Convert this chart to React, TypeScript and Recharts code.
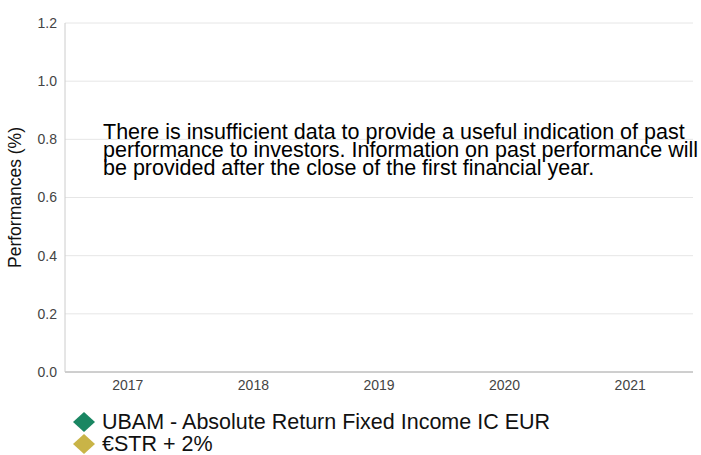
import React from "react";
import {
  Bar,
  BarChart,
  CartesianGrid,
  Label,
  XAxis,
  YAxis,
} from "recharts";

// Years shown on the x axis
const years = ["2017", "2018", "2019", "2020", "2021"];

// No performance figures yet: every value is missing
const fundValues: (number | null)[] = [null, null, null, null, null];
const benchmarkValues: (number | null)[] = [null, null, null, null, null];

const yTicks = [0, 0.2, 0.4, 0.6, 0.8, 1.0, 1.2];

const seriesNames = ["UBAM - Absolute Return Fixed Income IC EUR", "€STR + 2%"];
const seriesColors = ["#1a8662", "#c9b447"];

const notice =
  "There is insufficient data to provide a useful indication of past performance to investors. Information on past performance will be provided after the close of the first financial year.";

const data = years.map((year, i) => ({
  year,
  fund: fundValues[i],
  benchmark: benchmarkValues[i],
}));

const font = "Arial, 'Liberation Sans', sans-serif";

const App: React.FC = () => {
  return (
    <div
      style={{
        position: "absolute",
        left: 0,
        top: 0,
        width: 701,
        height: 455,
        fontFamily: font,
        background: "#fff",
      }}
    >
      <BarChart
        width={701}
        height={400}
        data={data}
        margin={{ top: 23, right: 8, left: 0, bottom: 0 }}
      >
        <CartesianGrid vertical={false} stroke="#e6e6e6" />
        <XAxis
          dataKey="year"
          height={28}
          tickLine={false}
          stroke="#aaaaaa"
          tick={{ fill: "#444", fontSize: 14, fontFamily: font }}
        />
        <YAxis
          width={65}
          type="number"
          domain={[0, 1.2]}
          allowDataOverflow
          ticks={yTicks}
          tickFormatter={(v: number) => v.toFixed(1)}
          tickLine={false}
          stroke="#cccccc"
          tick={{ fill: "#444", fontSize: 14, fontFamily: font }}
        >
          <Label
            value="Performances (%)"
            angle={-90}
            position="insideLeft"
            offset={15}
            style={{ textAnchor: "middle", fill: "#111", fontSize: 17.5, fontFamily: font }}
          />
        </YAxis>
        <Bar dataKey="fund" name={seriesNames[0]} fill={seriesColors[0]} isAnimationActive={false} />
        <Bar dataKey="benchmark" name={seriesNames[1]} fill={seriesColors[1]} isAnimationActive={false} />
      </BarChart>
      <div
        style={{
          position: "absolute",
          left: 103,
          top: 123,
          width: 615,
          fontSize: 21.5,
          lineHeight: "18px",
          color: "#000",
        }}
      >
        {notice}
      </div>
      <div style={{ position: "absolute", left: 72, top: 411 }}>
        {seriesNames.map((name, i) => (
          <div
            key={name}
            style={{ display: "flex", alignItems: "center", height: 22, fontSize: 21.5, color: "#111" }}
          >
            <svg width={26} height={22}>
              <polygon points="12,1 23,11 12,21 1,11" fill={seriesColors[i]} />
            </svg>
            <span style={{ marginLeft: 4 }}>{name}</span>
          </div>
        ))}
      </div>
    </div>
  );
};

export default App;
